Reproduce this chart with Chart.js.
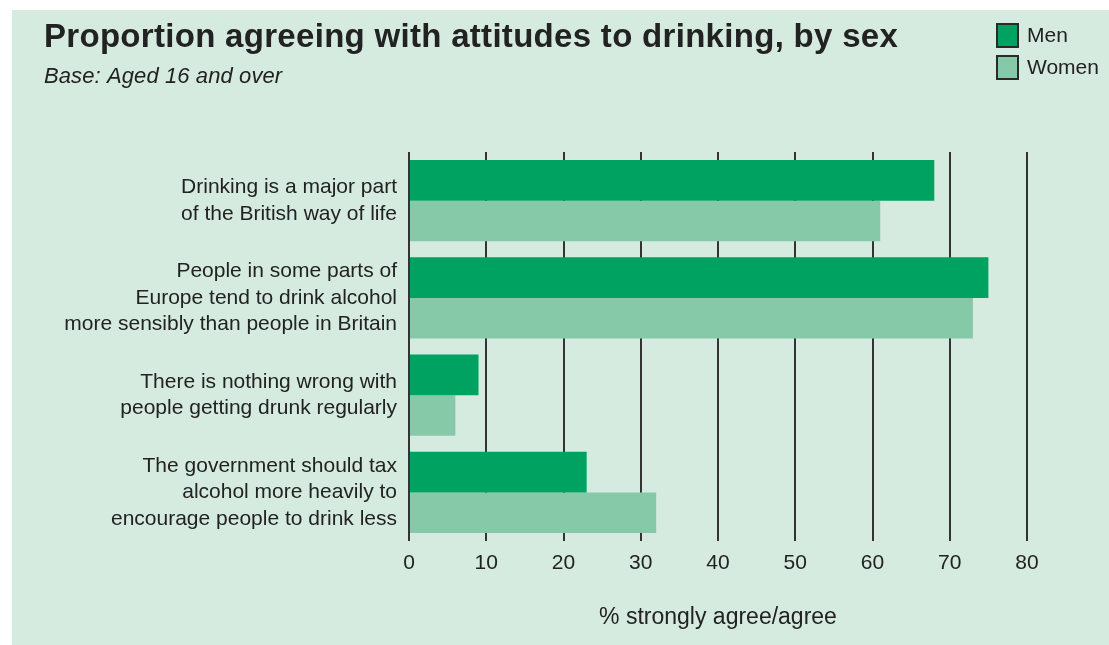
<!DOCTYPE html>
<html>
<head>
<meta charset="utf-8">
<script src="https://cdn.jsdelivr.net/npm/chart.js@4.4.1/dist/chart.umd.min.js"></script>
<style>
html,body{margin:0;padding:0;background:#fff;}
#wrap{width:1109px;height:645px;position:relative;}
</style>
</head>
<body>
<div id="wrap"><canvas id="c" width="1109" height="645"></canvas></div>
<script>
const titleText = "Proportion agreeing with attitudes to drinking, by sex";
const subtitleText = "Base: Aged 16 and over";
const axisTitle = "% strongly agree/agree";
const categories = [
  ["Drinking is a major part", "of the British way of life"],
  ["People in some parts of", "Europe tend to drink alcohol", "more sensibly than people in Britain"],
  ["There is nothing wrong with", "people getting drunk regularly"],
  ["The government should tax", "alcohol more heavily to", "encourage people to drink less"]
];
const seriesNames = ["Men", "Women"];
const menValues = [68, 75, 9, 23];
const womenValues = [61, 73, 6, 32];
const xMin = 0, xMax = 80, xStep = 10;

const FONT = "'Liberation Sans', Arial, Helvetica, sans-serif";
const TEXT = "#222222";
const MEN_COLOR = "#00a262";
const WOMEN_COLOR = "#86c9a8";
const PANEL = "#d5ebe0";

const decor = {
  id: "decor",
  beforeDraw(chart) {
    const ctx = chart.ctx;
    ctx.save();
    ctx.fillStyle = "#ffffff";
    ctx.fillRect(0, 0, chart.width, chart.height);
    ctx.fillStyle = PANEL;
    ctx.fillRect(12, 10, chart.width - 12, chart.height - 10);
    ctx.restore();
  },
  afterDraw(chart) {
    const ctx = chart.ctx;
    ctx.save();
    ctx.fillStyle = TEXT;
    ctx.textAlign = "left";
    ctx.textBaseline = "alphabetic";
    ctx.font = "bold 33px " + FONT;
    ctx.letterSpacing = "0.3px";
    ctx.fillText(titleText, 44, 47);
    ctx.font = "italic 22px " + FONT;
    ctx.letterSpacing = "0.1px";
    ctx.fillText(subtitleText, 44, 83);
    ctx.letterSpacing = "0px";
    // legend
    const ds = chart.data.datasets;
    const boxes = [{y: 24}, {y: 56}];
    ds.forEach((d, i) => {
      const by = boxes[i].y;
      ctx.fillStyle = d.backgroundColor;
      ctx.fillRect(997, by, 21, 23);
      ctx.strokeStyle = "#2a2a2a";
      ctx.lineWidth = 2;
      ctx.strokeRect(997, by, 21, 23);
      ctx.fillStyle = TEXT;
      ctx.font = "21px " + FONT;
      ctx.textBaseline = "middle";
      ctx.fillText(d.label, 1027, by + 12);
    });
    ctx.restore();
  }
};

new Chart(document.getElementById("c"), {
  type: "bar",
  data: {
    labels: categories,
    datasets: [
      {label: seriesNames[0], data: menValues, backgroundColor: MEN_COLOR, borderWidth: 0},
      {label: seriesNames[1], data: womenValues, backgroundColor: WOMEN_COLOR, borderWidth: 0}
    ]
  },
  options: {
    indexAxis: "y",
    responsive: false,
    animation: false,
    devicePixelRatio: 1,
    datasets: {bar: {barPercentage: 1.0, categoryPercentage: 0.833}},
    layout: {padding: {left: 0, right: 82, top: 152, bottom: 0}},
    plugins: {legend: {display: false}, tooltip: {enabled: false}, title: {display: false}},
    scales: {
      x: {
        min: xMin, max: xMax,
        ticks: {stepSize: xStep, color: TEXT, font: {family: FONT, size: 21}, padding: 10},
        grid: {color: "#333333", lineWidth: 2, drawTicks: false},
        border: {display: false},
        title: {display: true, text: axisTitle, color: TEXT, font: {family: FONT, size: 23}, padding: {top: 0, bottom: 14}},
        afterFit(scale) { scale.height = 104; }
      },
      y: {
        ticks: {color: TEXT, font: {family: FONT, size: 21, lineHeight: 1.26}, padding: 12, autoSkip: false},
        grid: {display: false, drawTicks: false},
        border: {display: false},
        afterFit(scale) { scale.width = 409; }
      }
    }
  },
  plugins: [decor]
});
</script>
</body>
</html>
